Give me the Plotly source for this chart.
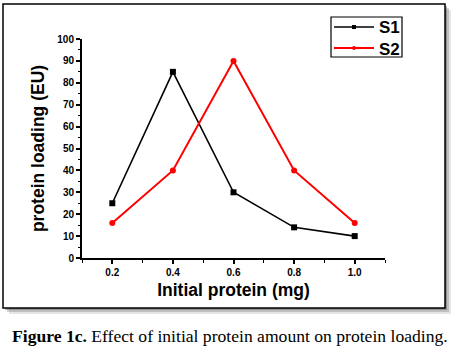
import plotly.graph_objects as go

x_vals = [0.2, 0.4, 0.6, 0.8, 1.0]
s1 = [25, 85, 30, 14, 10]
s2 = [16, 40, 90, 40, 16]
series_names = ["S1", "S2"]
series_colors = ["black", "#ff0000"]
x_ticks = [0.2, 0.4, 0.6, 0.8, 1.0]
x_ticklabels = ["0.2", "0.4", "0.6", "0.8", "1.0"]
y_ticks = list(range(0, 101, 10))

W, H = 451, 348
L, R, T, B = 82, 385, 39, 258  # plot area pixel bounds
pw, ph = R - L, B - T

def px(x):
    return (x - L) / pw

def py(y):
    return (B - y) / ph

fig = go.Figure()
fig.add_trace(go.Scatter(x=x_vals, y=s1, name=series_names[0], mode="lines+markers",
                         line=dict(color=series_colors[0], width=1.6),
                         marker=dict(symbol="square", size=6, color=series_colors[0])))
fig.add_trace(go.Scatter(x=x_vals, y=s2, name=series_names[1], mode="lines+markers",
                         line=dict(color=series_colors[1], width=2),
                         marker=dict(symbol="circle", size=6, color=series_colors[1])))

shapes = []
# shadow
for off, op in [(6, 0.15), (4, 0.25), (2, 0.4)]:
    shapes.append(dict(type="rect", xref="paper", yref="paper",
                       x0=px(3 + off), x1=px(445 + off), y0=py(308 + off), y1=py(4 + off),
                       fillcolor=f"rgba(80,80,80,{op})", line=dict(width=0), layer="below"))
shapes.append(dict(type="rect", xref="paper", yref="paper",
                   x0=px(3), x1=px(445), y0=py(308), y1=py(4),
                   fillcolor="white", line=dict(color="black", width=1.5), layer="below"))

# manual legend (box, line samples, markers)
shapes.append(dict(type="rect", xref="paper", yref="paper",
                   x0=px(331), x1=px(402), y0=py(57), y1=py(17),
                   fillcolor="white", line=dict(color="black", width=1.2), layer="above"))
annotations = []
for i, (name, col) in enumerate(zip(series_names, series_colors)):
    ly = 27 + i * 21
    shapes.append(dict(type="line", xref="paper", yref="paper",
                       x0=px(334), x1=px(374), y0=py(ly), y1=py(ly),
                       line=dict(color=col, width=1.6 if i == 0 else 2), layer="above"))
    if i == 0:
        shapes.append(dict(type="rect", xref="paper", yref="paper",
                           x0=px(352), x1=px(356), y0=py(ly + 2), y1=py(ly - 2),
                           fillcolor=col, line=dict(width=0), layer="above"))
    else:
        shapes.append(dict(type="circle", xref="paper", yref="paper",
                           x0=px(352), x1=px(356), y0=py(ly + 2), y1=py(ly - 2),
                           fillcolor=col, line=dict(width=0), layer="above"))
    annotations.append(dict(xref="paper", yref="paper", x=px(377), y=py(ly + 1),
                            xanchor="left", yanchor="middle", showarrow=False, text=name,
                            font=dict(family="Liberation Sans", size=17, color="black", weight="bold")))

annotations.append(dict(xref="paper", yref="paper", x=px(10), y=py(336),
                        xanchor="left", yanchor="middle", showarrow=False,
                        text="<b>Figure 1c.</b> Effect of initial protein amount on protein loading.",
                        font=dict(family="Liberation Serif", size=17.6, color="black")))

fig.update_layout(
    width=W, height=H,
    margin=dict(l=L, r=W - R, t=T, b=H - B),
    paper_bgcolor="white", plot_bgcolor="rgba(0,0,0,0)",
    shapes=shapes,
    showlegend=False,
    xaxis=dict(range=[0.1, 1.1], tickvals=x_ticks, ticktext=x_ticklabels,
               showgrid=False, zeroline=False, showline=True, linecolor="black", linewidth=2,
               ticks="outside", ticklen=4, tickwidth=1.5, tickcolor="black",
               minor=dict(dtick=0.1, tick0=0.1, ticks="outside", ticklen=3, tickwidth=1, tickcolor="black"),
               tickfont=dict(family="Liberation Sans", size=10, color="black", weight="bold"),
               title=dict(text="Initial protein (mg)", standoff=7,
                          font=dict(family="Liberation Sans", size=17.5, color="black", weight="bold"))),
    yaxis=dict(range=[0, 100], tickvals=y_ticks,
               showgrid=False, zeroline=False, showline=True, linecolor="black", linewidth=2,
               ticks="outside", ticklen=4, tickwidth=1.5, tickcolor="black",
               minor=dict(dtick=5, ticks="outside", ticklen=2, tickwidth=1, tickcolor="black"),
               tickfont=dict(family="Liberation Sans", size=10, color="black", weight="bold"),
               title=dict(text="protein loading (EU)", standoff=8,
                          font=dict(family="Liberation Sans", size=17.5, color="black", weight="bold"))),
    annotations=annotations,
)

fig.write_html("out.html")
